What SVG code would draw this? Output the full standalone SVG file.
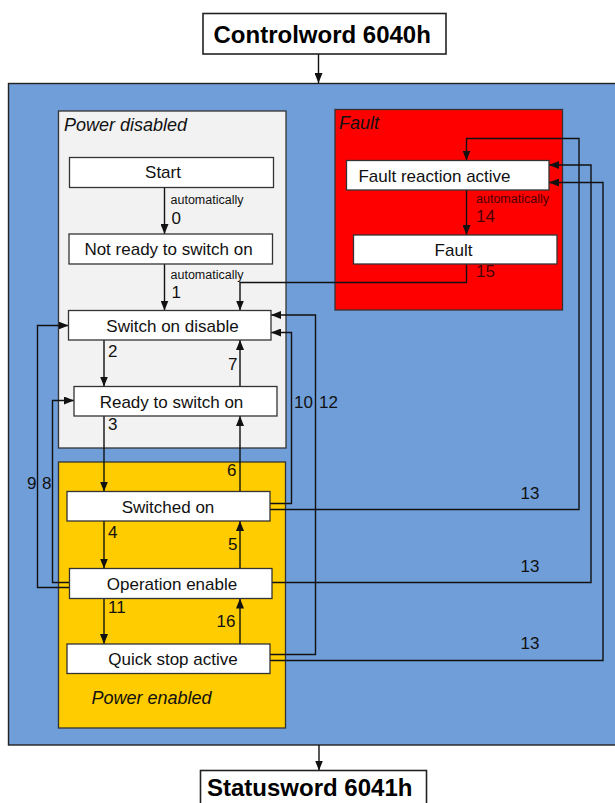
<svg xmlns="http://www.w3.org/2000/svg" width="615" height="803" viewBox="0 0 615 803">
<style>
  .box { fill: #ffffff; stroke: #333333; stroke-width: 1.3; }
  .t { font-family: "Liberation Sans", Arial, sans-serif; font-size: 17px; fill: #111111; text-anchor: middle; }
  .title { font-family: "Liberation Sans", Arial, sans-serif; font-size: 24px; font-weight: bold; fill: #000000; }
  .area { font-family: "Liberation Sans", Arial, sans-serif; font-size: 18px; font-style: italic; fill: #111111; }
  .lbl { font-family: "Liberation Sans", Arial, sans-serif; font-size: 17px; fill: #111111; }
  .auto { font-family: "Liberation Sans", Arial, sans-serif; font-size: 12.5px; fill: #111111; }
  .dk { fill: #4a0000; }
  .c { fill: none; stroke: #111111; stroke-width: 1.4; }
  .ca { fill: none; stroke: #111111; stroke-width: 1.4; marker-end: url(#ah); }
</style>
<defs>
  <marker id="ah" markerUnits="userSpaceOnUse" markerWidth="10" markerHeight="8" refX="10" refY="4" orient="auto">
    <path d="M0,0 L10,4 L0,8 z" fill="#111111"/>
  </marker>
</defs>
<rect x="0" y="0" width="615" height="803" fill="#ffffff"/>

<g id="drive-area">
  <rect x="8.5" y="83.5" width="620" height="661.5" fill="#709ED9" stroke="#222222" stroke-width="1.4"/>
</g>
<g id="power-disabled">
  <rect x="58.5" y="111" width="227.5" height="337" fill="#F2F2F2" stroke="#333333" stroke-width="1.3"/>
  <text class="area" x="64" y="130.5">Power disabled</text>
</g>
<g id="power-enabled">
  <rect x="58.5" y="462" width="227" height="266" fill="#FFCC00" stroke="#333333" stroke-width="1.3"/>
  <text class="area" x="91.5" y="704">Power enabled</text>
</g>
<g id="fault-area">
  <rect x="335" y="109.5" width="227.5" height="200.5" fill="#FF0000" stroke="#333333" stroke-width="1.3"/>
  <text class="area" x="339" y="128.5">Fault</text>
</g>

<g id="connectors">
  <path class="ca" d="M318.5,54 V83"/>
  <path class="ca" d="M319,745 V770.5"/>
  <path class="ca" d="M164.5,187.5 V234"/>
  <path class="ca" d="M164.5,264 V310.5"/>
  <path class="ca" d="M104,340 V386.5"/>
  <path class="ca" d="M240,386.5 V340"/>
  <path class="ca" d="M104,416 V491.5"/>
  <path class="ca" d="M240,491.5 V416"/>
  <path class="ca" d="M104,521 V568.5"/>
  <path class="ca" d="M240,568.5 V521"/>
  <path class="ca" d="M104,598.5 V644"/>
  <path class="ca" d="M240,644 V598.5"/>
  <path class="ca" d="M69,587.5 H37.5 V325.5 H68.5"/>
  <path class="ca" d="M69,582.5 H52.5 V400.5 H74"/>
  <path class="ca" d="M270,503.5 H291.5 V332.5 H271"/>
  <path class="ca" d="M270,654.5 H315.5 V315 H271"/>
  <path class="ca" d="M270,509.5 H579 V138.5 H466.5 V160.5"/>
  <path class="ca" d="M272,582.5 H591 V165 H549"/>
  <path class="ca" d="M270,660.5 H603 V182.5 H549"/>
  <path class="ca" d="M466.5,190 V235"/>
  <path class="ca" d="M466.5,264 V282.5 H240 V310.5"/>

  <text class="auto" x="170.5" y="203.5">automatically</text>
  <text class="lbl" x="171.5" y="223.5">0</text>
  <text class="auto" x="170.5" y="278.5">automatically</text>
  <text class="lbl" x="171.5" y="298">1</text>
  <text class="lbl" x="108" y="357">2</text>
  <text class="lbl" x="228" y="370">7</text>
  <text class="lbl" x="294" y="408">10</text>
  <text class="lbl" x="319" y="408">12</text>
  <text class="lbl" x="108" y="430">3</text>
  <text class="lbl" x="227" y="476">6</text>
  <text class="lbl" x="27" y="489">9</text>
  <text class="lbl" x="42" y="489">8</text>
  <text class="lbl" x="108" y="538">4</text>
  <text class="lbl" x="228" y="550">5</text>
  <text class="lbl" x="108" y="613">11</text>
  <text class="lbl" x="216.5" y="627">16</text>
  <text class="lbl" x="520.5" y="499">13</text>
  <text class="lbl" x="520.5" y="571.5">13</text>
  <text class="lbl" x="520.5" y="649">13</text>
  <text class="auto dk" x="476" y="203">automatically</text>
  <text class="lbl dk" x="476" y="221.5">14</text>
  <text class="lbl dk" x="476" y="276.5">15</text>
</g>

<g id="controlword">
  <rect x="203" y="13.5" width="243" height="40.5" fill="#ffffff" stroke="#222222" stroke-width="1.6"/>
  <text class="title" x="213.5" y="43">Controlword 6040h</text>
</g>
<g id="statusword">
  <rect x="200.5" y="770.5" width="226" height="40" fill="#ffffff" stroke="#222222" stroke-width="1.6"/>
  <text class="title" x="207" y="796">Statusword 6041h</text>
</g>
<g id="start">
  <rect class="box" x="69.5" y="157.5" width="204" height="30"/>
  <text class="t" x="163" y="178">Start</text>
</g>
<g id="not-ready">
  <rect class="box" x="69" y="234" width="203.5" height="30"/>
  <text class="t" x="168.5" y="255">Not ready to switch on</text>
</g>
<g id="switch-on-disable">
  <rect class="box" x="68.5" y="310.5" width="202.5" height="29.5"/>
  <text class="t" x="172.5" y="331.5">Switch on disable</text>
</g>
<g id="ready">
  <rect class="box" x="74" y="386.5" width="203" height="29.5"/>
  <text class="t" x="171.5" y="407.5">Ready to switch on</text>
</g>
<g id="switched-on">
  <rect class="box" x="67" y="491.5" width="203" height="29.5"/>
  <text class="t" x="168" y="512.5">Switched on</text>
</g>
<g id="operation-enable">
  <rect class="box" x="69.5" y="568.5" width="202.5" height="30"/>
  <text class="t" x="172" y="589.5">Operation enable</text>
</g>
<g id="quick-stop">
  <rect class="box" x="67" y="644" width="203" height="29.5"/>
  <text class="t" x="173" y="665">Quick stop active</text>
</g>
<g id="fault-reaction">
  <rect class="box" x="346.5" y="160.5" width="202.5" height="29.5"/>
  <text class="t" x="434.5" y="181.5">Fault reaction active</text>
</g>
<g id="fault">
  <rect class="box" x="353.5" y="235" width="203.5" height="29"/>
  <text class="t" x="453.5" y="255.5">Fault</text>
</g>
</svg>
